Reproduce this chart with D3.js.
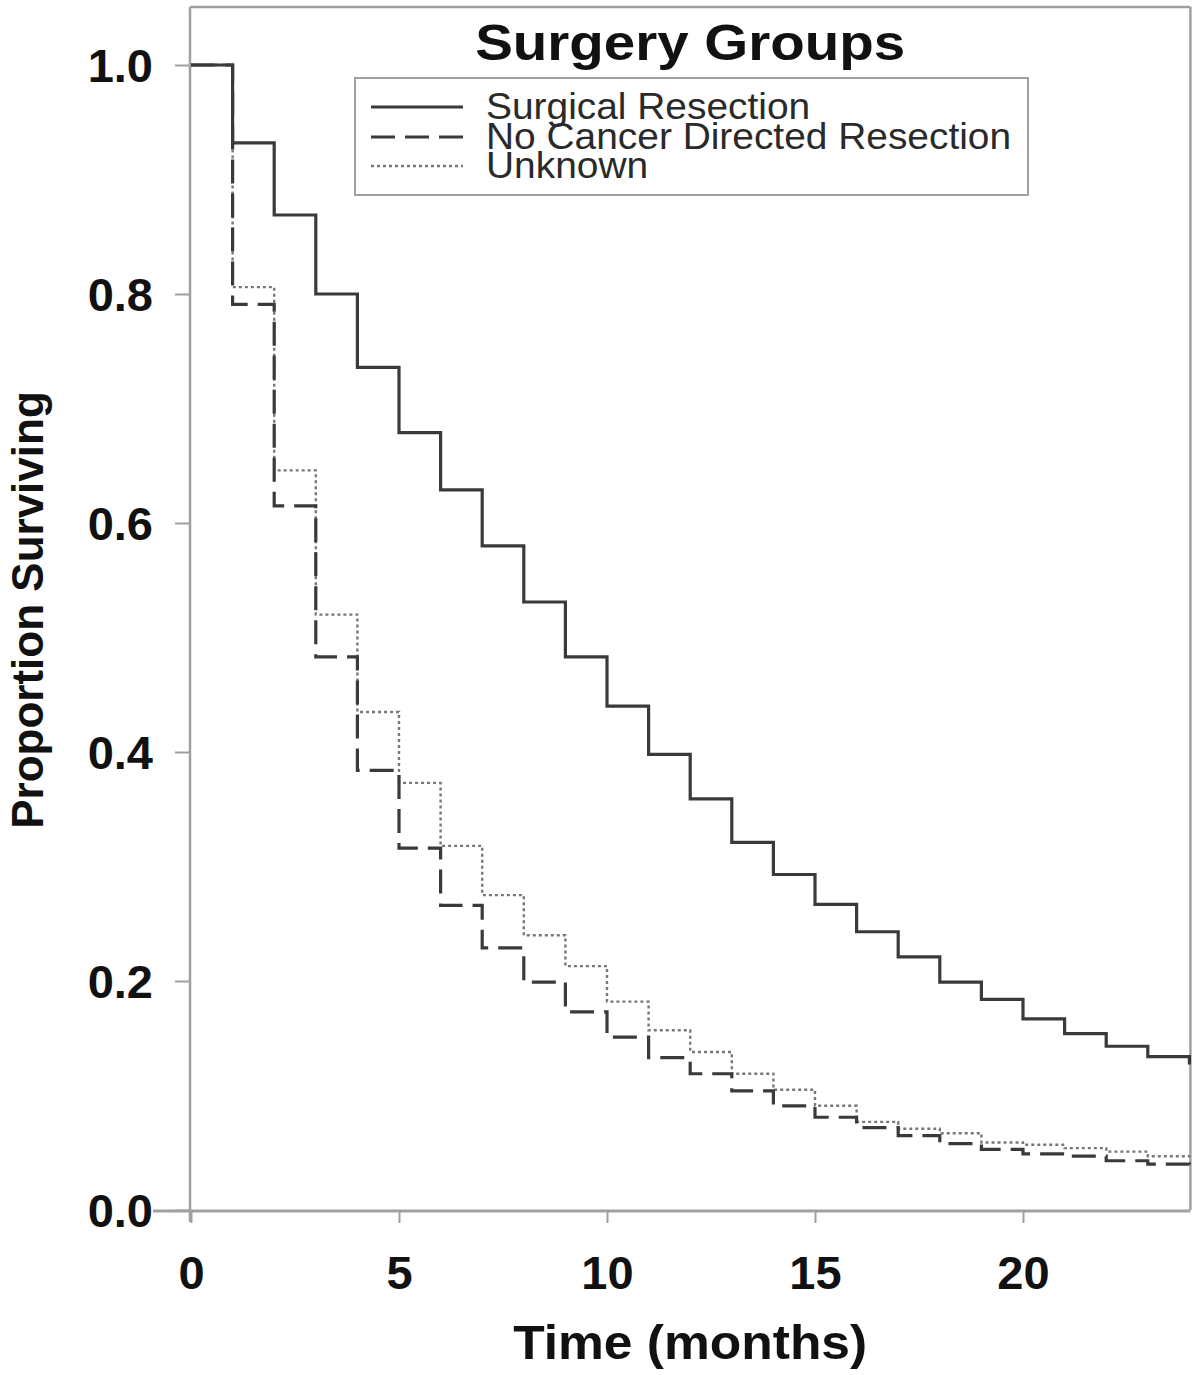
<!DOCTYPE html>
<html>
<head>
<meta charset="utf-8">
<script src="https://cdn.jsdelivr.net/npm/d3@7"></script>
<style>
  html, body { margin: 0; padding: 0; background: #fff; }
  svg { display: block; }
</style>
</head>
<body>
<svg id="chart" width="1200" height="1375"></svg>
<script>
// ---- Data ----
const months = [0,1,2,3,4,5,6,7,8,9,10,11,12,13,14,15,16,17,18,19,20,21,22,23,24];
const surgicalResection = [1.0, 0.932, 0.869, 0.800, 0.736, 0.679, 0.629, 0.580, 0.531, 0.483, 0.440, 0.398, 0.359, 0.321, 0.293, 0.267, 0.243, 0.221, 0.199, 0.184, 0.167, 0.154, 0.143, 0.134, 0.127];
const noCancerDirected = [1.0, 0.791, 0.615, 0.483, 0.384, 0.316, 0.266, 0.229, 0.199, 0.173, 0.151, 0.133, 0.119, 0.104, 0.091, 0.081, 0.072, 0.065, 0.058, 0.053, 0.049, 0.047, 0.043, 0.040, 0.038];
const unknownGroup = [1.0, 0.806, 0.646, 0.520, 0.435, 0.373, 0.318, 0.275, 0.240, 0.213, 0.182, 0.157, 0.138, 0.119, 0.105, 0.091, 0.077, 0.071, 0.067, 0.059, 0.057, 0.054, 0.051, 0.047, 0.044];
const seriesNames = ["Surgical Resection", "No Cancer Directed Resection", "Unknown"];
const xTicks = [0, 5, 10, 15, 20];
const yTicks = [0.0, 0.2, 0.4, 0.6, 0.8, 1.0];

(function () {
// ---- Layout ----
const svg = d3.select("#chart");
const pLeft = 191, pRight = 1189.4, pTop = 65, pBottom = 1210, frameTop = 7;
const x = d3.scaleLinear().domain([0, 24]).range([pLeft, pRight]);
const y = d3.scaleLinear().domain([0, 1]).range([pBottom, pTop]);
const font = "'Liberation Sans', Arial, Helvetica, sans-serif";
const axisColor = "#a0a0a0";

// Frame (top and right)
svg.append("line").attr("x1", pLeft - 1).attr("x2", pRight + 1).attr("y1", frameTop).attr("y2", frameTop)
  .attr("stroke", axisColor).attr("stroke-width", 2.5);
svg.append("line").attr("x1", pRight + 1).attr("x2", pRight + 1).attr("y1", frameTop).attr("y2", pBottom)
  .attr("stroke", axisColor).attr("stroke-width", 2.5);
// Left axis line (full height)
svg.append("line").attr("x1", pLeft - 1).attr("x2", pLeft - 1).attr("y1", frameTop).attr("y2", pBottom + 12)
  .attr("stroke", axisColor).attr("stroke-width", 2.5);
// Bottom axis line extended
svg.append("line").attr("x1", 153).attr("x2", pRight + 1).attr("y1", pBottom + 1).attr("y2", pBottom + 1)
  .attr("stroke", axisColor).attr("stroke-width", 3);

// Y axis
const yAxis = svg.append("g").attr("transform", `translate(${pLeft - 1},0)`)
  .call(d3.axisLeft(y).tickValues(yTicks).tickFormat(d3.format(".1f")).tickSize(15).tickPadding(22));
yAxis.select(".domain").remove();
yAxis.selectAll(".tick line").attr("stroke", axisColor).attr("stroke-width", 2);
yAxis.selectAll(".tick text").attr("font-family", font).attr("font-size", 47).attr("font-weight", "bold")
  .attr("fill", "#111").attr("dy", "0.36em");

// X axis
const xAxis = svg.append("g").attr("transform", `translate(0,${pBottom + 1})`)
  .call(d3.axisBottom(x).tickValues(xTicks).tickFormat(d3.format("d")).tickSize(12).tickPadding(33));
xAxis.select(".domain").remove();
xAxis.selectAll(".tick line").attr("stroke", axisColor).attr("stroke-width", 2);
xAxis.selectAll(".tick text").attr("font-family", font).attr("font-size", 47).attr("font-weight", "bold")
  .attr("fill", "#111");

// Axis titles
svg.append("text").attr("x", (pLeft + pRight) / 2).attr("y", 1359).attr("text-anchor", "middle")
  .attr("font-family", font).attr("font-size", 49).attr("font-weight", "bold").attr("fill", "#111")
  .attr("textLength", 354).attr("lengthAdjust", "spacingAndGlyphs")
  .text("Time (months)");
svg.append("text").attr("transform", "translate(43,610) rotate(-90)").attr("text-anchor", "middle")
  .attr("font-family", font).attr("font-size", 44).attr("font-weight", "bold").attr("fill", "#111")
  .text("Proportion Surviving");

// ---- Curves ----
const styles = [
  { data: surgicalResection, dash: null, width: 3.2, color: "#3a3a3a" },
  { data: noCancerDirected, dash: "24,10", width: 3.2, color: "#3a3a3a" },
  { data: unknownGroup, dash: "3,3", width: 2.4, color: "#777" }
];
const line = d3.line().x(d => x(d[0])).y(d => y(d[1])).curve(d3.curveStepAfter);
[2, 1, 0].forEach(i => {
  const s = styles[i];
  const pts = months.map((m, j) => [m, s.data[j]]);
  svg.append("path").attr("d", line(pts)).attr("fill", "none")
    .attr("stroke", s.color).attr("stroke-width", s.width)
    .attr("stroke-dasharray", s.dash).attr("stroke-linejoin", "miter");
});

// ---- Legend ----
svg.append("text").attr("x", (pLeft + pRight) / 2).attr("y", 60).attr("text-anchor", "middle")
  .attr("font-family", font).attr("font-size", 50).attr("font-weight", "bold").attr("fill", "#111")
  .attr("textLength", 430).attr("lengthAdjust", "spacingAndGlyphs")
  .text("Surgery Groups");
svg.append("rect").attr("x", 355).attr("y", 78).attr("width", 673).attr("height", 117)
  .attr("fill", "none").attr("stroke", axisColor).attr("stroke-width", 2);
const legendY = [107, 137, 166];
seriesNames.forEach((name, i) => {
  const s = styles[i];
  svg.append("line").attr("x1", 371).attr("x2", 463).attr("y1", legendY[i]).attr("y2", legendY[i])
    .attr("stroke", s.color).attr("stroke-width", s.width).attr("stroke-dasharray", s.dash);
  const t = svg.append("text").attr("x", 486).attr("y", legendY[i] + 12)
    .attr("font-family", font).attr("font-size", 36).attr("fill", "#2a2a2a").text(name);
  const len = t.node().getComputedTextLength();
  t.attr("textLength", len * 1.08).attr("lengthAdjust", "spacingAndGlyphs");
});
})();
</script>
</body>
</html>
